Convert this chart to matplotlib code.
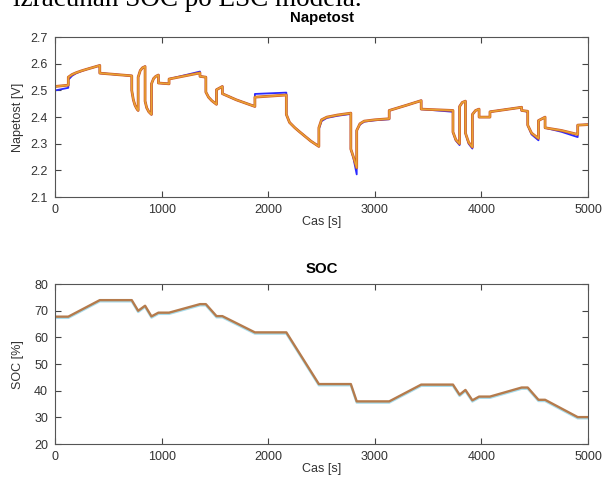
import matplotlib
matplotlib.use("Agg")
import matplotlib.pyplot as plt
import matplotlib.transforms as mtransforms

# cas [s] za napetost (podvojene tocke = skoki)
t_v = [0, 125, 125, 160, 200, 250, 300, 360, 420, 420, 720, 720, 735, 750, 765, 780,
       780, 800, 820, 845, 845, 860, 880, 905, 905, 925, 945, 970, 970, 1070, 1070,
       1360, 1360, 1415, 1415, 1440, 1470, 1515, 1515, 1570, 1570, 1700, 1875, 1875,
       2170, 2170, 2200, 2250, 2300, 2400, 2475, 2475, 2500, 2550, 2650, 2775, 2775,
       2800, 2830, 2830, 2860, 2900, 3000, 3135, 3135, 3300, 3435, 3435, 3733, 3733,
       3760, 3795, 3795, 3820, 3850, 3850, 3880, 3915, 3915, 3945, 3978, 3978, 4080,
       4080, 4377, 4377, 4434, 4434, 4470, 4535, 4535, 4597, 4597, 4750, 4903, 4903, 5000]

# model napetost [V]
v_model = [2.515, 2.52, 2.55, 2.56, 2.567, 2.574, 2.580, 2.587, 2.594, 2.565, 2.555, 2.50,
           2.465, 2.445, 2.433, 2.425, 2.55, 2.575, 2.585, 2.59, 2.46, 2.435, 2.42, 2.41,
           2.525, 2.545, 2.553, 2.558, 2.528, 2.525, 2.543, 2.566, 2.553, 2.55, 2.494,
           2.475, 2.462, 2.448, 2.503, 2.515, 2.488, 2.465, 2.44, 2.475, 2.483, 2.41,
           2.38, 2.36, 2.343, 2.31, 2.29, 2.36, 2.39, 2.40, 2.408, 2.415, 2.28, 2.25,
           2.21, 2.35, 2.375, 2.385, 2.39, 2.394, 2.425, 2.445, 2.462, 2.43, 2.425, 2.344,
           2.315, 2.30, 2.44, 2.455, 2.46, 2.34, 2.305, 2.2875, 2.41, 2.425, 2.43, 2.40,
           2.40, 2.42, 2.437, 2.425, 2.422, 2.37, 2.34, 2.32, 2.387, 2.40, 2.36, 2.35,
           2.335, 2.37, 2.372]

# izmerjena napetost [V]
v_meas = [2.50, 2.51, 2.54, 2.555, 2.565, 2.573, 2.580, 2.587, 2.594, 2.565, 2.555, 2.50,
          2.465, 2.445, 2.433, 2.425, 2.55, 2.575, 2.585, 2.59, 2.46, 2.435, 2.42, 2.41,
          2.525, 2.545, 2.553, 2.558, 2.528, 2.525, 2.543, 2.571, 2.553, 2.55, 2.494,
          2.475, 2.462, 2.448, 2.503, 2.515, 2.488, 2.465, 2.44, 2.487, 2.492, 2.41,
          2.38, 2.36, 2.343, 2.31, 2.29, 2.355, 2.385, 2.397, 2.405, 2.412, 2.28, 2.245,
          2.185, 2.35, 2.372, 2.383, 2.388, 2.392, 2.425, 2.445, 2.462, 2.43, 2.42, 2.344,
          2.312, 2.295, 2.44, 2.455, 2.46, 2.34, 2.30, 2.282, 2.41, 2.425, 2.43, 2.40,
          2.40, 2.42, 2.437, 2.425, 2.42, 2.37, 2.335, 2.313, 2.387, 2.40, 2.36, 2.345,
          2.325, 2.37, 2.372]

# SOC [%]
t_soc = [0, 125, 420, 720, 780, 845, 905, 970, 1070, 1360, 1415, 1515, 1570, 1875, 2170,
         2475, 2775, 2830, 3135, 3435, 3733, 3795, 3850, 3915, 3978, 4080, 4377, 4434,
         4535, 4597, 4903, 5000]
soc = [67.8, 67.8, 74.0, 74.0, 70.0, 71.9, 67.9, 69.3, 69.3, 72.5, 72.5, 68.0, 68.0,
       61.9, 61.9, 42.5, 42.5, 36.0, 36.0, 42.3, 42.3, 38.5, 40.3, 36.4, 37.8, 37.8,
       41.2, 41.2, 36.6, 36.6, 30.1, 30.1]

plt.rcParams['font.family'] = ['Liberation Sans', 'DejaVu Sans']
plt.rcParams['font.size'] = 9

fig = plt.figure(figsize=(6.03, 4.83), dpi=100)

# odrezan tekst dokumenta nad sliko
fig.text(13 / 603, 1 - 5.5 / 483, "izračunan SOC po ESC modela.", family='Liberation Serif',
         fontsize=19.5, ha='left', va='baseline')

ax1 = fig.add_axes([0.0912, 0.592, 0.884, 0.331])
ax2 = fig.add_axes([0.0912, 0.0807, 0.884, 0.331])

ax1.plot(t_v, v_meas, color='#2a2aff', lw=1.3)
ax1.plot(t_v, v_model, color='#cf5a2a', lw=2.0)
ax1.plot(t_v, v_model, color='#e9a233', lw=1.1)

shift = mtransforms.offset_copy(ax2.transData, fig=fig, x=0, y=-1.2, units='dots')
ax2.plot(t_soc, soc, color='#a8dcec', lw=1.7, transform=shift)
ax2.plot(t_soc, soc, color='#b57b4c', lw=1.7)

ax1.set_ylim(2.1, 2.7)
ax1.set_yticks([2.1, 2.2, 2.3, 2.4, 2.5, 2.6, 2.7])
ax1.set_ylabel("Napetost [V]", labelpad=5)
ax1.set_title("Napetost", fontweight='bold', pad=11)

ax2.set_ylim(20, 80)
ax2.set_yticks([20, 30, 40, 50, 60, 70, 80])
ax2.set_ylabel("SOC [%]", labelpad=7)
ax2.set_title("SOC", fontweight='bold', pad=8)

for ax in (ax1, ax2):
    ax.set_xlim(0, 5000)
    ax.set_xticks([0, 1000, 2000, 3000, 4000, 5000])
    ax.set_xlabel("Cas [s]", labelpad=0, color='#333333')
    ax.yaxis.label.set_color('#333333')
    ax.tick_params(direction='in', top=True, right=True, length=4, width=0.8,
                   colors='#444444', labelcolor='#333333', pad=5)
    for s in ax.spines.values():
        s.set_color('#555555')
        s.set_linewidth(0.8)

fig.savefig("out.png", dpi=100)
